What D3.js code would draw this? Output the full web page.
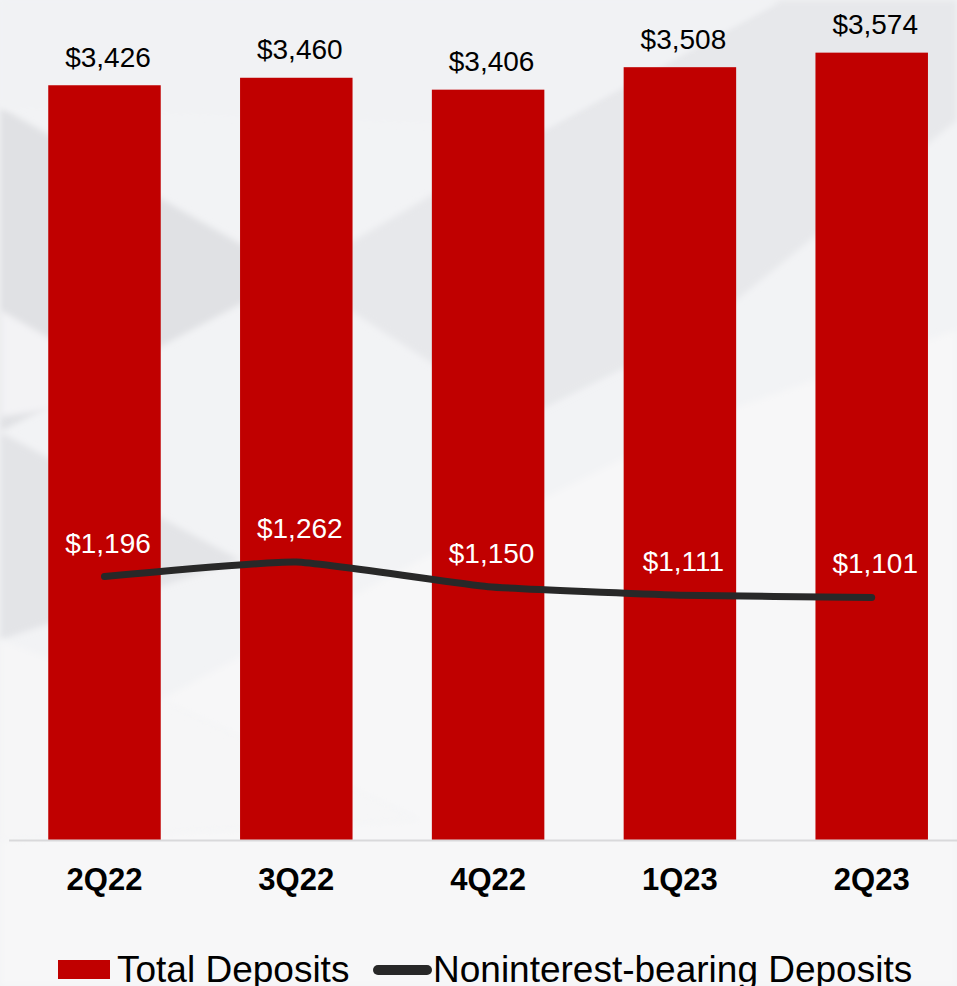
<!DOCTYPE html>
<html>
<head>
<meta charset="utf-8">
<script src="https://cdn.jsdelivr.net/npm/d3@7"></script>
<style>
  html, body { margin: 0; padding: 0; background: #f3f3f5; }
  svg { display: block; }
  text { font-family: "Liberation Sans", Arial, Helvetica, sans-serif; }
</style>
</head>
<body>
<svg id="chart" width="957" height="986"></svg>
<script>
// Quarterly deposits, $ millions
const quarters = ["2Q22", "3Q22", "4Q22", "1Q23", "2Q23"];
const totalDeposits = [3426, 3460, 3406, 3508, 3574];
const nonInterestDeposits = [1196, 1262, 1150, 1111, 1101];
const seriesNames = ["Total Deposits", "Noninterest-bearing Deposits"];

const W = 957, H = 986;
const svg = d3.select("#chart");
const fmt = v => "$" + d3.format(",")(v);

// ---- soft abstract backdrop ----
const defs = svg.append("defs");
defs.append("filter").attr("id", "soft")
  .attr("x", "-10%").attr("y", "-10%").attr("width", "120%").attr("height", "120%")
  .append("feGaussianBlur").attr("stdDeviation", 3);

const bg = svg.append("g");
bg.append("rect").attr("width", W).attr("height", H).attr("fill", "#f2f3f5");
const shapes = [
  { pts: [[0,107],[295,275],[0,432]], fill: "#e0e1e4" },
  { pts: [[0,310],[150,395],[0,417]], fill: "#f3f3f5" },
  { pts: [[0,432],[240,560],[0,640]], fill: "#e3e4e7" },
  { pts: [[295,275],[560,120],[780,0],[957,0],[957,120],[700,330],[520,420]], fill: "#e7e8eb" },
  { pts: [[0,640],[160,700],[420,820],[0,840]], fill: "#f6f6f7" },
  { pts: [[160,700],[420,560],[700,420],[957,330],[957,986],[0,986],[0,840],[420,820]], fill: "#f7f7f8" },
  { pts: [[0,0],[780,0],[547,127],[0,107]], fill: "#f1f2f4" }
];
bg.selectAll("polygon").data(shapes).join("polygon")
  .attr("points", d => d.pts.map(p => p.join(",")).join(" "))
  .attr("fill", d => d.fill)
  .attr("filter", "url(#soft)");

// ---- scales ----
const x = d3.scaleBand()
  .domain(quarters)
  .range([8.6, 967.6])
  .paddingInner(0.4135)
  .paddingOuter(0.2067);

const y = d3.scaleLinear()
  .domain([0, 3800])
  .range([840, 840 - 3800 * 0.2203]);

const cx = q => x(q) + x.bandwidth() / 2;

// ---- bars ----
svg.append("g").selectAll("rect")
  .data(quarters.map((q, i) => ({ q, v: totalDeposits[i] })))
  .join("rect")
  .attr("x", d => x(d.q))
  .attr("y", d => y(d.v))
  .attr("width", x.bandwidth())
  .attr("height", d => y(0) - y(d.v))
  .attr("fill", "#c00000");

// ---- x axis ----
const axis = svg.append("g")
  .attr("transform", `translate(0,${y(0)})`)
  .call(d3.axisBottom(x).tickSize(0).tickPadding(0));
axis.select(".domain").attr("stroke", "#d9d9db").attr("stroke-width", 2);
axis.selectAll(".tick text")
  .attr("y", 50).attr("dy", 0)
  .attr("font-family", "'Liberation Sans', Arial, sans-serif")
  .attr("font-size", 31)
  .attr("font-weight", "bold")
  .attr("fill", "#000");

// ---- bar value labels ----
svg.append("g").selectAll("text")
  .data(quarters.map((q, i) => ({ q, v: totalDeposits[i] })))
  .join("text")
  .attr("x", d => cx(d.q) + 3.5)
  .attr("y", d => y(d.v) - 18.5)
  .attr("text-anchor", "middle")
  .attr("font-size", 28)
  .attr("fill", "#000")
  .text(d => fmt(d.v));

// ---- noninterest-bearing line ----
const linePts = quarters.map((q, i) => ({ q, v: nonInterestDeposits[i] }));
const line = d3.line()
  .x(d => cx(d.q))
  .y(d => y(d.v))
  .curve(d3.curveCardinal.tension(0.6));
svg.append("path")
  .datum(linePts)
  .attr("d", line)
  .attr("fill", "none")
  .attr("stroke", "#282828")
  .attr("stroke-width", 7)
  .attr("stroke-linecap", "round")
  .attr("stroke-linejoin", "round");

svg.append("g").selectAll("text")
  .data(linePts)
  .join("text")
  .attr("x", d => cx(d.q) + 3.5)
  .attr("y", d => y(d.v) - 24)
  .attr("text-anchor", "middle")
  .attr("font-size", 28)
  .attr("fill", "#ffffff")
  .text(d => fmt(d.v));

// ---- legend ----
const legend = svg.append("g");
legend.append("rect")
  .attr("x", 58).attr("y", 960).attr("width", 52).attr("height", 19)
  .attr("fill", "#c00000");
legend.append("text")
  .attr("x", 117).attr("y", 982)
  .attr("font-size", 37).attr("fill", "#000")
  .text(seriesNames[0]);
legend.append("line")
  .attr("x1", 378).attr("x2", 427).attr("y1", 970).attr("y2", 970)
  .attr("stroke", "#282828").attr("stroke-width", 10)
  .attr("stroke-linecap", "round");
legend.append("text")
  .attr("x", 433).attr("y", 982)
  .attr("font-size", 37).attr("fill", "#000")
  .text(seriesNames[1]);
</script>
</body>
</html>
